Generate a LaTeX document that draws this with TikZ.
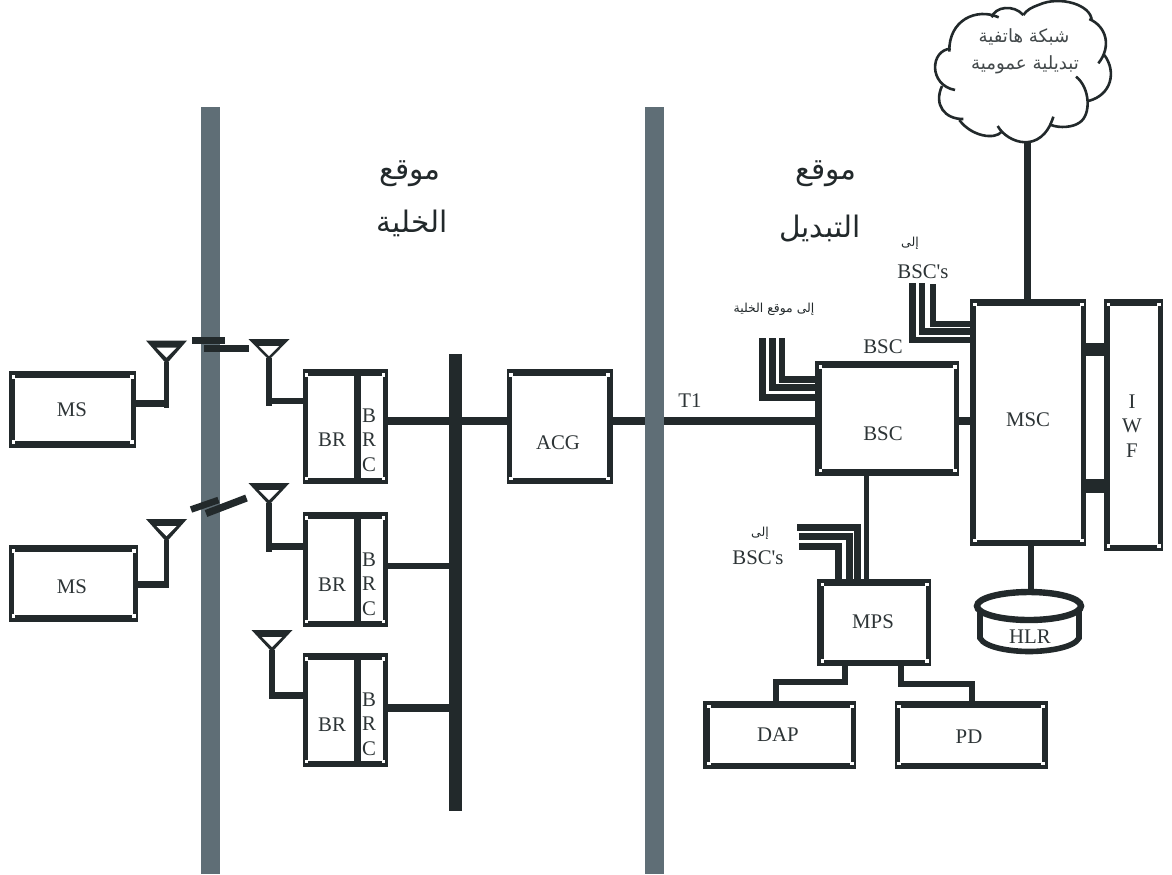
\documentclass[tikz,border=0pt]{standalone}
\usepackage{fontspec}
\setmainfont{Liberation Serif}[Ligatures=TeXOff]
\newfontfamily\arabicfont[Script=Arabic]{DejaVu Sans}
\TeXXeTstate=1
\definecolor{ink}{HTML}{22292B}
\definecolor{barcol}{HTML}{5F6E76}
\newcommand{\ar}[1]{{\arabicfont\beginR #1\endR}}
\tikzset{
  lbl/.style={inner sep=0pt,outer sep=0pt,text=ink!95!white,align=center,font=\fontsize{10.4}{12.25}\selectfont},
  arbig/.style={inner sep=0pt,text=ink,font=\fontsize{14.8}{17}\selectfont},
  armid/.style={inner sep=0pt,text=ink!85!white,font=\fontsize{9.1}{11}\selectfont},
  arsmall/.style={inner sep=0pt,text=ink,font=\fontsize{6.2}{8}\selectfont},
  wire/.style={draw=ink,line width=3pt,line cap=butt,line join=miter},
  fatwire/.style={wire,line width=4pt},
  cloudline/.style={draw=ink,line width=1.3pt,line cap=butt},
  outerbox/.style={fill=ink,draw=none,inner sep=0pt,outer sep=0pt},
  barstyle/.style={fill=barcol,draw=none,inner sep=0pt,outer sep=0pt,minimum width=9.5pt},
}
% name, x1,y1,x2,y2, stroke left, top, right, bottom
\newcommand{\bx}[9]{%
  \node[outerbox,minimum width={(#4-#2)*0.5pt},minimum height={(#5-#3)*0.5pt}] (#1) at ({(#2+#4)/2},{(#3+#5)/2}) {};
  \fill[white] ({#2+#6},{#3+#7}) rectangle ({#4-#8},{#5-#9});
  \foreach \cx/\dx in {{#2+#6}/-1,{#4-#8}/1}{\foreach \cy/\dy in {{#3+#7}/-1,{#5-#9}/1}{
    \fill[white] ({\cx+\dx*0.9-1.8},{\cy+\dy*0.9-1.8}) rectangle ++(3.6,3.6);}}
}
% name, centre x, top y, apex y
\newcommand{\ant}[4]{%
  \coordinate (#1) at (#2,#4);
  \fill[ink] ({#2-20.5},#3) -- ({#2+20.5},#3) -- (#2,{#4+2}) -- cycle;
  \fill[white] ({#2-10},{#3+7}) -- ({#2+10},{#3+7}) -- (#2,{#3+17}) -- cycle;
}
\begin{document}
\begin{tikzpicture}[x=0.5pt,y=-0.5pt]
\useasboundingbox (0,0) rectangle (1172,874);
\fill[white] (0,0) rectangle (1172,874);

% gray bar 1 (lightning marks lie over it)
\node[barstyle,minimum height=383.5pt] (bar1) at (210.5,490.5) {};

% boxes
\bx{ms1}{9}{371}{136}{448}{5.5}{6.8}{5}{6.8}
\bx{ms2}{9.3}{544.7}{137.7}{622}{5}{7}{4.5}{6.7}
\bx{br1}{303}{369}{388}{484}{4.5}{7}{5.5}{6.5}
\bx{br2}{303}{512}{388}{627}{4.5}{7}{5.5}{6.5}
\bx{br3}{303}{653}{388}{767}{4.5}{7}{5.5}{6.5}
\bx{acg}{507}{369}{613}{484}{5}{7}{6}{6.5}
\bx{bsc}{815}{361}{958.5}{475.7}{6.5}{7}{4.5}{6.3}
\bx{msc}{969.5}{299}{1086}{546}{6.5}{6.5}{5}{6.5}
\bx{iwf}{1104}{299}{1163}{551}{5.5}{6.5}{5}{6}
\bx{mps}{817}{579}{931}{666}{6.5}{6.5}{5}{6}
\bx{dap}{703}{701}{856}{769}{7}{6.5}{5}{6.5}
\bx{pd}{895}{701}{1048}{769}{5}{6.5}{6}{6.5}

% bus
\node[outerbox,minimum width=6.5pt,minimum height=228.5pt] (bus) at (455.5,582.5) {};

% BR dividers
\coordinate (dv) at (357.5,0);
\draw[wire,line width=3.4pt] (dv |- br1.north) -- (dv |- br1.south);
\draw[wire,line width=3.4pt] (dv |- br2.north) -- (dv |- br2.south);
\draw[wire,line width=3.4pt] (dv |- br3.north) -- (dv |- br3.south);

% antennas
\ant{a1}{166.5}{340.5}{362}
\ant{a2}{166.5}{519}{540}
\ant{b1}{269}{339}{358}
\ant{b2}{269}{483}{503}
\ant{b3}{272}{630}{650}
\coordinate (a1e) at (166.5,408);
\coordinate (a2e) at (166.5,588);
\coordinate (b1e) at (269,405.5);
\coordinate (b2e) at (269,551.5);
\coordinate (b3e) at (272,699);
\draw[wire,line width=2.8pt] (a1) -- (a1e);
\draw[wire,line width=2.8pt] (a2) -- (a2e);
\draw[wire,line width=2.8pt] (b1) -- (b1e);
\draw[wire,line width=2.8pt] (b2) -- (b2e);
\draw[wire,line width=2.8pt] (b3) -- (b3e);
\coordinate (a1w) at (169,403.5);
\coordinate (a2w) at (169,584.5);
\coordinate (b1w) at (266.2,401);
\coordinate (b2w) at (266.2,546.5);
\coordinate (b3w) at (269.2,695.5);
\draw[wire,line width=3.5pt] (ms1.east |- a1w) -- (a1w);
\draw[wire,line width=3.5pt] (ms2.east |- a2w) -- (a2w);
\draw[wire] (b1w) -- (br1.west |- b1w);
\draw[wire,line width=3.3pt] (b2w) -- (br2.west |- b2w);
\draw[wire,line width=3.5pt] (b3w) -- (br3.west |- b3w);

% radio links
\coordinate (l1a) at (192,340.5); \coordinate (l1b) at (225,340.5);
\coordinate (l2a) at (204,348.5); \coordinate (l2b) at (249,348.5);
\coordinate (l3a) at (191,509.5); \coordinate (l3b) at (218.5,500);
\coordinate (l4a) at (206,513.5); \coordinate (l4b) at (246.5,498);
\draw[fatwire,line width=3.4pt] (l1a) -- (l1b);
\draw[fatwire,line width=3.5pt] (l2a) -- (l2b);
\draw[fatwire,line width=3.3pt] (l3a) -- (l3b);
\draw[fatwire,line width=3.6pt] (l4a) -- (l4b);

% BR to bus, bus to ACG
\coordinate (y1) at (0,421);
\coordinate (y2) at (0,565.5);
\coordinate (y3) at (0,708);
\draw[fatwire] (br1.east |- y1) -- (bus.west |- y1);
\draw[wire] (br2.east |- y2) -- (bus.west |- y2);
\draw[fatwire,line width=3.8pt] (br3.east |- y3) -- (bus.west |- y3);
\draw[fatwire] (bus.east |- y1) -- (acg.west |- y1);
\draw[fatwire] (acg.east |- y1) -- (bsc.west |- y1);

% gray bar 2 covers the T1 line
\node[barstyle,minimum height=383.5pt] (bar2) at (654.5,490.5) {};

% BSC stubs
\coordinate (s1) at (762.5,338); \coordinate (s2) at (772.5,338); \coordinate (s3) at (782,338);
\coordinate (h1) at (0,397); \coordinate (h2) at (0,387.5); \coordinate (h3) at (0,379.5);
\draw[wire,line width=3.5pt] (s1) -- (s1 |- h1) -- (bsc.west |- h1);
\draw[wire,line width=3.4pt] (s2) -- (s2 |- h2) -- (bsc.west |- h2);
\draw[wire,line width=3.4pt] (s3) -- (s3 |- h3) -- (bsc.west |- h3);

% MSC stubs
\coordinate (t1) at (912.5,283); \coordinate (t2) at (922,283); \coordinate (t3) at (932.5,284);
\coordinate (k1) at (0,340); \coordinate (k2) at (0,331.5); \coordinate (k3) at (0,323.5);
\draw[wire,line width=3.4pt] (t1) -- (t1 |- k1) -- (msc.west |- k1);
\draw[wire,line width=3.2pt] (t2) -- (t2 |- k2) -- (msc.west |- k2);
\draw[wire,line width=3pt] (t3) -- (t3 |- k3) -- (msc.west |- k3);

% BSC - MSC, MSC - IWF
\coordinate (m1) at (0,420.8);
\draw[wire,line width=3.9pt] (bsc.east |- m1) -- (msc.west |- m1);
\coordinate (i1) at (0,349.5); \coordinate (i2) at (0,486);
\draw[wire,line width=6.5pt] (msc.east |- i1) -- (iwf.west |- i1);
\draw[wire,line width=7pt] (msc.east |- i2) -- (iwf.west |- i2);

% BSC - MPS and stubs
\coordinate (vb) at (866.5,0);
\draw[wire,line width=2.8pt] (vb |- bsc.south) -- (vb |- mps.north);
\coordinate (u1) at (797,527.5); \coordinate (u2) at (799,536.5); \coordinate (u3) at (799,546.5);
\coordinate (w1) at (857.5,0); \coordinate (w2) at (849.5,0); \coordinate (w3) at (838.5,0);
\draw[wire,line width=3.4pt] (u1) -- (w1 |- u1) -- (w1 |- mps.north);
\draw[wire,line width=3.4pt] (u2) -- (w2 |- u2) -- (w2 |- mps.north);
\draw[wire,line width=3.4pt] (u3) -- (w3 |- u3) -- (w3 |- mps.north);

% MPS - DAP / PD
\coordinate (d1) at (845,682); \coordinate (d2) at (776,682);
\coordinate (p1) at (901,684); \coordinate (p2) at (972,684);
\draw[wire,line width=3.4pt] (d1 |- mps.south) -- (d1) -- (d2) -- (d2 |- dap.north);
\draw[wire,line width=3.4pt] (p1 |- mps.south) -- (p1) -- (p2) -- (p2 |- pd.north);

% HLR
\coordinate (hlr) at (1029,606);
\draw[ink,line width=2.8pt,fill=white] (980,606) -- (980,638) .. controls (985,648) and (1012,651.5) .. (1029,651.5) .. controls (1046,651.5) and (1074,648) .. (1079,638) -- (1079,606);
\path[draw=ink,line width=3.2pt,fill=white] (hlr) ellipse (52 and 14);
\node[inner sep=0pt,outer sep=0pt,minimum width=1pt,minimum height=1pt] (hlrtop) at (1031,592) {};
\draw[wire,line width=3.3pt] (msc.south -| hlrtop) -- (hlrtop.center);

% cloud
\begin{scope}[shift={(920,0)},x=0.16667pt,y=-0.16667pt]
\draw[cloudline] (233,378) .. controls (262,430) and (365,465) .. (400,350);
\draw[cloudline] (468,230) .. controls (510,262) and (515,345) .. (478,368) .. controls (458,382) and (420,385) .. (393,375);
\draw[cloudline] (505,303) .. controls (575,285) and (590,215) .. (553,165);
\draw[cloudline] (535,190) .. controls (575,140) and (560,80) .. (508,57);
\draw[cloudline] (515,62) .. controls (515,15) and (420,-15) .. (355,15) .. controls (335,22) and (320,30) .. (310,45);
\draw[cloudline] (310,45) .. controls (280,12) and (225,20) .. (215,52);
\draw[cloudline] (236,52) .. controls (170,22) and (85,60) .. (88,155);
\draw[cloudline] (92,146) .. controls (30,150) and (25,255) .. (105,270);
\draw[cloudline] (66,258) .. controls (40,315) and (75,358) .. (130,357);
\draw[cloudline] (118,360) .. controls (155,410) and (225,420) .. (245,395);
\coordinate (cloudb) at (322,426);
\end{scope}
\draw[wire,line width=3.3pt] (cloudb) -- (cloudb |- msc.north);

% texts
\node[lbl] (tms1) at (72,410) {MS};
\node[lbl] (tms2) at (72,587) {MS};
\node[lbl] (tbr1) at (332,440) {BR};
\node[lbl] (tbr2) at (332,585) {BR};
\node[lbl] (tbr3) at (332,725) {BR};
\node[lbl] (tc1) at (369,440) {B\\R\\C};
\node[lbl] (tc2) at (369,584) {B\\R\\C};
\node[lbl] (tc3) at (369,724) {B\\R\\C};
\node[lbl] (tacg) at (558,443) {ACG};
\node[lbl] (tt1) at (690,401) {T1};
\node[lbl] (tbsc) at (883,434) {BSC};
\node[lbl] (tbsc2) at (883,347) {BSC};
\node[lbl] (tmsc) at (1028,420) {MSC};
\node[lbl] (tiwf) at (1132,426) {I\\W\\F};
\node[lbl] (tmps) at (873,622) {MPS};
\node[lbl] (tdap) at (778,735) {DAP};
\node[lbl] (tpd) at (969,737) {PD};
\node[lbl] (thlr) at (1030,637) {HLR};
\node[lbl] (tbs1) at (923,272) {BSC's};
\node[lbl] (tbs2) at (758,558) {BSC's};

\node[arbig] (q1) at (410,174) {\ar{موقع}};
\node[arbig] (q2) at (412,223) {\ar{الخلية}};
\node[arbig] (q3) at (826,174) {\ar{موقع}};
\node[arbig] (q4) at (820,229) {\ar{التبديل}};
\node[armid] (c1) at (1024,37) {\ar{شبكة هاتفية}};
\node[armid] (c2) at (1025,65) {\ar{تبديلية عمومية}};
\node[arsmall] (e1) at (910,243) {\ar{إلى}};
\node[arsmall] (e2) at (760,533) {\ar{إلى}};
\node[arsmall] (e3) at (774,309) {\ar{إلى موقع الخلية}};
\end{tikzpicture}
\end{document}
